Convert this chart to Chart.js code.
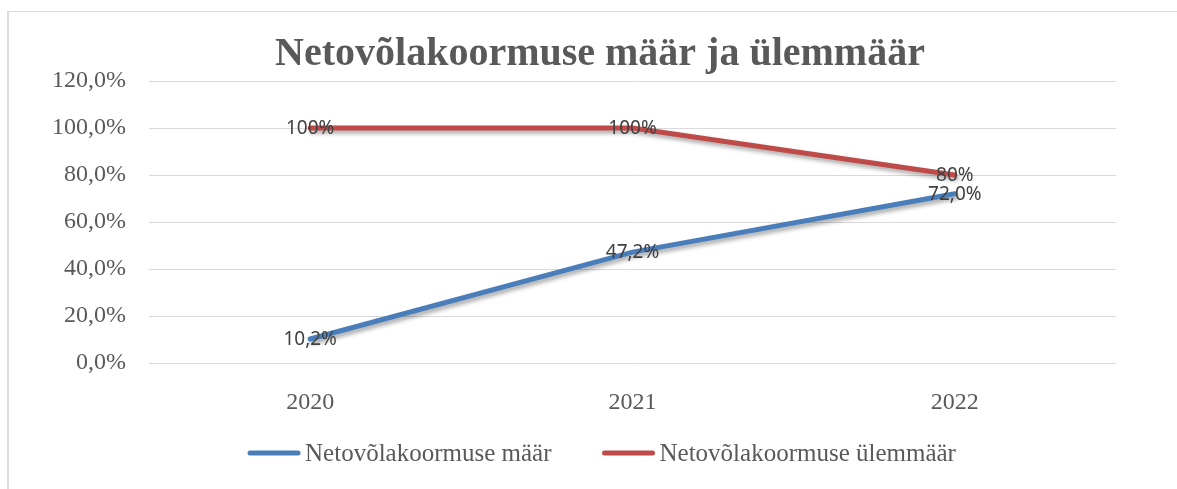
<!DOCTYPE html>
<html>
<head>
<meta charset="utf-8">
<script src="https://cdn.jsdelivr.net/npm/chart.js@4"></script>
<style>
  body { margin: 0; overflow: hidden; background: #fff; }
  #frame { position: absolute; left: 7px; top: 11px; width: 1300px; height: 600px;
           border-top: 1px solid #d9d9d9; border-left: 2px solid #dcdcdc; }
  #wrap { position: absolute; left: 0; top: 0; width: 1200px; height: 489px; }
</style>
</head>
<body>
<div id="frame"></div>
<div id="wrap"><canvas id="chart"></canvas></div>
<script>
// Data
const years = ['2020', '2021', '2022'];
const rateValues = [10.2, 47.2, 72.0];
const limitValues = [100, 100, 80];
const seriesNames = ['Netovõlakoormuse määr', 'Netovõlakoormuse ülemmäär'];
const labelDecimals = [1, 0];
const yTickValues = [0, 20, 40, 60, 80, 100, 120];

const serif = '"Liberation Serif", "Times New Roman", serif';

function pct(v, d) {
  return v.toFixed(d).replace('.', ',') + '%';
}

// soft shadow under the lines
const lineShadow = {
  id: 'lineShadow',
  beforeDatasetDraw(chart) {
    const c = chart.ctx;
    c.save();
    c.shadowColor = 'rgba(0,0,0,0.35)';
    c.shadowBlur = 4;
    c.shadowOffsetX = 2;
    c.shadowOffsetY = 3;
  },
  afterDatasetDraw(chart) {
    chart.ctx.restore();
  }
};

// value labels centred on the points
const pointLabels = {
  id: 'pointLabels',
  afterDatasetsDraw(chart) {
    const c = chart.ctx;
    c.save();
    c.font = '19px "Noto Sans", sans-serif';
    c.fillStyle = '#404040';
    c.textAlign = 'center';
    c.textBaseline = 'middle';
    chart.data.datasets.forEach((ds, i) => {
      chart.getDatasetMeta(i).data.forEach((pt, j) => {
        c.fillText(pct(ds.data[j], labelDecimals[i]), pt.x, pt.y + 1);
      });
    });
    c.restore();
  }
};

// legend along the bottom, line sample + name, Excel style
const bottomLegend = {
  id: 'bottomLegend',
  afterDraw(chart) {
    const c = chart.ctx;
    const sample = 52, gap = 5, spacing = 51;
    c.save();
    c.font = '25px ' + serif;
    c.textBaseline = 'middle';
    const items = chart.data.datasets.map(ds => ({
      text: ds.label, color: ds.borderColor, w: c.measureText(ds.label).width
    }));
    let total = items.reduce((s, it) => s + sample + gap + it.w, 0) + spacing * (items.length - 1);
    let x = chart.width / 2 + 2 - total / 2;
    const y = 453;
    items.forEach(it => {
      c.strokeStyle = it.color;
      c.lineWidth = 5;
      c.lineCap = 'round';
      c.beginPath();
      c.moveTo(x + 2, y);
      c.lineTo(x + sample - 2, y);
      c.stroke();
      c.fillStyle = '#595959';
      c.fillText(it.text, x + sample + gap, y + 1);
      x += sample + gap + it.w + spacing;
    });
    c.restore();
  }
};

const ctx = document.getElementById('chart').getContext('2d');
new Chart(ctx, {
  type: 'line',
  data: {
    labels: years,
    datasets: [
      {
        label: seriesNames[0],
        data: rateValues,
        borderColor: '#4a7ebb',
        backgroundColor: '#4a7ebb',
        borderWidth: 5,
        pointRadius: 0,
        borderCapStyle: 'round',
        tension: 0
      },
      {
        label: seriesNames[1],
        data: limitValues,
        borderColor: '#be4b48',
        backgroundColor: '#be4b48',
        borderWidth: 5,
        pointRadius: 0,
        borderCapStyle: 'round',
        tension: 0
      }
    ]
  },
  options: {
    responsive: true,
    maintainAspectRatio: false,
    animation: false,
    layout: { padding: { left: 0, right: 0, top: 0, bottom: 78 } },
    plugins: {
      tooltip: { enabled: false },
      legend: { display: false },
      title: {
        display: true,
        text: 'Netovõlakoormuse määr ja ülemmäär',
        color: '#595959',
        font: { family: serif, size: 40, weight: 'bold', lineHeight: 1.2 },
        padding: { top: 31, bottom: 2 }
      }
    },
    scales: {
      x: {
        offset: true,
        grid: { display: false },
        border: { display: false },
        ticks: { color: '#595959', font: { family: serif, size: 24 }, padding: 17 },
        afterFit(axis) { axis.height = 48; }
      },
      y: {
        min: 0,
        max: 120,
        afterBuildTicks(axis) { axis.ticks = yTickValues.map(v => ({ value: v })); },
        grid: { color: '#d9d9d9', lineWidth: 1, drawTicks: false },
        border: { display: false },
        ticks: {
          color: '#595959',
          font: { family: serif, size: 24 },
          padding: 23,
          callback: v => pct(v, 1)
        },
        afterFit(axis) { axis.width = 149; }
      },
      y2: {
        position: 'right',
        grid: { display: false },
        border: { display: false },
        ticks: { display: false },
        afterFit(axis) { axis.width = 84; }
      }
    }
  },
  plugins: [lineShadow, pointLabels, bottomLegend]
});
</script>
</body>
</html>
